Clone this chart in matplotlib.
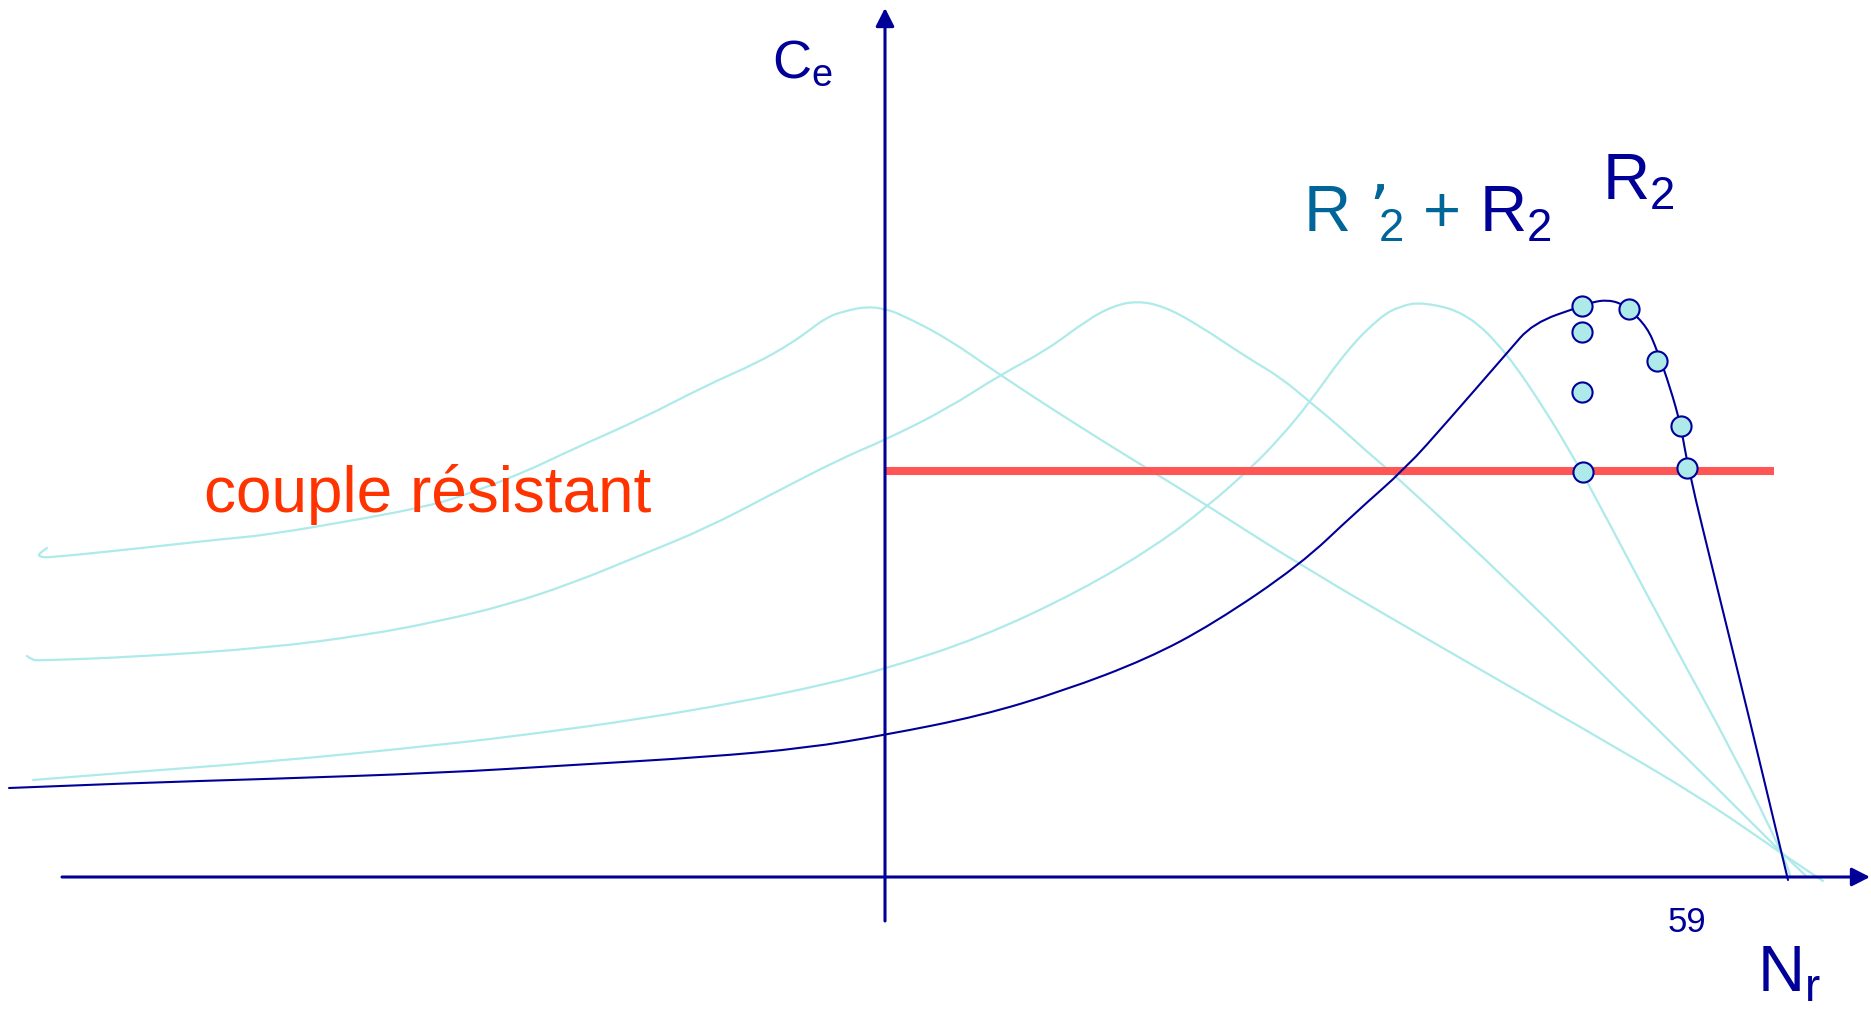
#!/usr/bin/env python3
"""Torque / speed sketch: C_e against N_r for several rotor resistances."""

import matplotlib

matplotlib.use("Agg")
import matplotlib.pyplot as plt
from matplotlib.patches import PathPatch
from matplotlib.path import Path

NAVY = "#000099"
CYAN = "#AEEAEA"
TEAL = "#006699"
RED_LINE = "#FF5555"
RED_TEXT = "#FF3300"

# origin is the crossing of the two axes, y is torque, x is speed
R2_X = [-876, -752, -618, -445, -312, -178, -78, 0, 95, 178, 262, 328, 415, 470,
        521, 562, 622, 648, 697, 708, 722, 735, 744, 762, 772, 785, 796, 803,
        831, 864, 903]
R2_Y = [89, 94, 98, 104, 112, 120, 129, 142, 161, 186, 218, 253, 312, 364,
        409, 455, 524, 554, 571, 575, 577, 574, 568, 550, 527, 490, 451, 409,
        294, 160, -3]

CURVE_A_X = [-838, -847, -845, -835, -752, -662, -618, -518, -462, -425, -362,
             -312, -245, -178, -128, -95, -78, -58, -40, -18, 0, 15, 62, 115,
             195, 268, 323, 415, 561, 706, 815, 896, 938]
CURVE_A_Y = [329, 323, 320, 319.5, 328, 338, 342, 359, 370, 380, 404, 428,
             457.5, 492, 514, 533, 545, 560, 566, 570.5, 568, 563, 539, 502,
             450, 405, 371, 312, 227, 144, 80, 24, -4]

CURVE_B_X = [-858, -853, -845, -752, -618, -518, -445, -378, -312, -245, -178,
             -112, -45, 0, 62, 115, 162, 202, 228, 252, 278, 312, 362, 395,
             425, 455, 480, 513, 633, 743, 834, 896, 922]
CURVE_B_Y = [221, 217, 216.5, 220, 229, 242, 256, 272, 294, 321.5, 349, 383.5,
             418, 437, 468, 502, 527, 557, 571, 576, 571, 553, 519.5, 500, 475,
             450, 427, 399, 287, 177, 87, 25, 0]

CURVE_C_X = [-852, -752, -618, -445, -345, -245, -145, -62, 0, 95, 195, 272,
             323, 368, 395, 425, 462, 495, 515, 538, 582, 622, 662, 684, 703,
             779, 852, 899, 905]
CURVE_C_Y = [97, 105, 115, 132, 144, 158, 175, 192, 208, 239, 286, 332, 371,
             411, 439, 475, 527, 560, 571, 575, 564, 524, 464, 427, 394, 250,
             117, 20, 2]

DOTS_X = [697, 744, 772, 796, 802, 697, 697, 698]
DOTS_Y = [571, 568, 516, 451, 409, 545, 485, 405]

LOAD_TORQUE = 406
LOAD_X = [0, 889]

X_AXIS = [-823, 985]
Y_AXIS = [-44, 869]
TICK_VALUE = "59"

FONT = "Liberation Sans"


def smooth_path(xs, ys):
    # quadratic pieces through the midpoints, so the sketch reads as one stroke
    pts = list(zip(xs, ys))
    verts = [pts[0]]
    codes = [Path.MOVETO]
    for i in range(1, len(pts) - 1):
        mid = ((pts[i][0] + pts[i + 1][0]) / 2, (pts[i][1] + pts[i + 1][1]) / 2)
        verts += [pts[i], mid]
        codes += [Path.CURVE3, Path.CURVE3]
    verts.append(pts[-1])
    codes.append(Path.LINETO)
    return Path(verts, codes)


def draw_curve(ax, xs, ys, color, lw, zorder):
    patch = PathPatch(smooth_path(xs, ys), facecolor="none", edgecolor=color,
                      lw=lw, capstyle="round", joinstyle="round", zorder=zorder)
    ax.add_patch(patch)


def draw_axes_arrows(ax):
    style = "-|>,head_length=0.55,head_width=0.28"
    ax.annotate("", xy=(X_AXIS[1], 0), xytext=(X_AXIS[0], 0),
                arrowprops=dict(arrowstyle=style, mutation_scale=20, lw=2.2,
                                color=NAVY, shrinkA=0, shrinkB=0))
    ax.annotate("", xy=(0, Y_AXIS[1]), xytext=(0, Y_AXIS[0]),
                arrowprops=dict(arrowstyle=style, mutation_scale=20, lw=2.2,
                                color=NAVY, shrinkA=0, shrinkB=0))


def draw_labels(ax):
    kw = dict(ha="left", va="baseline")
    ax.text(-113, 799, "C$_e$", fontsize=39, color=NAVY, **kw)

    ax.text(418, 645, "R \u2019$\\!{}_2$", fontsize=47, color=TEAL, **kw)
    ax.text(557, 645, "+", fontsize=47, color=TEAL, ha="center", va="baseline")
    ax.text(594, 645, "R$_2$", fontsize=47, color=NAVY, **kw)

    ax.text(717, 677, "R$_2$", fontsize=47, color=NAVY, **kw)

    ax.text(-681, 365, "couple r\u00e9sistant", fontsize=46, color=RED_TEXT, **kw)

    ax.text(802, -55, TICK_VALUE, fontsize=25, color=NAVY, ha="center",
            va="baseline")
    ax.text(872, -115, "N$_r$", fontsize=47, color=NAVY, **kw)


def main():
    plt.rcParams["font.family"] = FONT
    plt.rcParams["mathtext.default"] = "regular"

    fig = plt.figure(figsize=(18.71, 10.15), dpi=100)
    ax = fig.add_axes([0, 0, 1, 1])
    ax.set_xlim(-885, 986)
    ax.set_ylim(-138, 877)
    ax.axis("off")

    for xs, ys in [(CURVE_A_X, CURVE_A_Y), (CURVE_B_X, CURVE_B_Y),
                   (CURVE_C_X, CURVE_C_Y)]:
        draw_curve(ax, xs, ys, CYAN, 1.6, 2)

    ax.plot(LOAD_X, [LOAD_TORQUE, LOAD_TORQUE], color=RED_LINE, lw=5.8,
            solid_capstyle="butt", zorder=3)
    draw_curve(ax, R2_X, R2_Y, NAVY, 1.5, 4)

    draw_axes_arrows(ax)

    ax.plot(DOTS_X, DOTS_Y, "o", ms=14.5, mfc=CYAN, mec=NAVY, mew=1.5,
            linestyle="none", zorder=5)

    draw_labels(ax)

    fig.savefig("out.png", dpi=100)
    plt.close(fig)


if __name__ == "__main__":
    main()
